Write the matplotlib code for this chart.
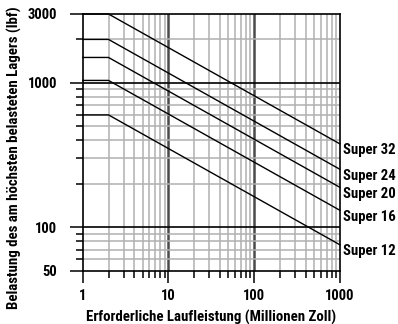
import numpy as np
import matplotlib
matplotlib.use("Agg")
import matplotlib.pyplot as plt
from matplotlib import font_manager as fm
from matplotlib.ticker import FixedLocator, NullFormatter

files = {f.fname.split("/")[-1]: f.fname for f in fm.fontManager.ttflist}
pref = ["RobotoCondensed-Bold.ttf", "LiberationSansNarrow-Bold.ttf", "ArchivoNarrow-Bold.ttf",
        "AsapCondensed-Bold.ttf", "BarlowCondensed-Bold.ttf", "DejaVuSansCondensed-Bold.ttf"]
FPATH = None
for p in pref:
    if p in files:
        FPATH = files[p]
        break

def fp(size):
    if FPATH:
        return fm.FontProperties(fname=FPATH, size=size)
    return fm.FontProperties(family="DejaVu Sans", weight="bold", size=size * 0.85)

# Data
series = ["Super 32", "Super 24", "Super 20", "Super 16", "Super 12"]
max_load = [3000, 2000, 1500, 1040, 600]   # lbf, flat up to knee
knee_life = 2                               # million inches
life_points = [1, 2, 1000]                  # million inches
xticks = [1, 10, 100, 1000]
xticklabels = ["1", "10", "100", "1000"]
yticks = [50, 100, 1000, 3000]
yticklabels = ["50", "100", "1000", "3000"]
xlabel = "Erforderliche Laufleistung (Millionen Zoll)"
ylabel = "Belastung des am höchsten belasteten Lagers (lbf)"

fig = plt.figure(figsize=(3.98, 3.24), dpi=100)
ax = fig.add_axes([0.2078, 0.1645, 0.854 - 0.2078, 0.9568 - 0.1645])
ax.set_xscale("log")
ax.set_yscale("log")
ax.set_xlim(1, 1000)
ax.set_ylim(50, 3000)

# grid
minor_x = [m * 10**e for e in range(0, 3) for m in range(2, 10)]
for v in minor_x:
    ax.axvline(v, color="#b0b0b0", lw=1.1, zorder=1)
for v in [10, 100]:
    ax.axvline(v, color="#4a4a4a", lw=1.8, zorder=1)
minor_y = [m * 10**e for e in range(1, 3) for m in range(2, 10)] + [2000]
minor_y = [v for v in minor_y if 50 < v < 3000]
for v in minor_y:
    ax.axhline(v, color="#b0b0b0", lw=1.1, zorder=1)
for v in [100, 1000]:
    ax.axhline(v, color="black", lw=1.2, zorder=1.5)

# curves
for name, p0 in zip(series, max_load):
    x = np.array(life_points, dtype=float)
    y = np.where(x <= knee_life, p0, p0 * (x / knee_life) ** (-1.0 / 3.0))
    ax.plot(x, y, color="black", lw=1.0, zorder=3, clip_on=False)
    ax.annotate(name, xy=(x[-1], y[-1]), xytext=(2.5, -4.5), textcoords="offset points",
                ha="left", va="center", fontproperties=fp(10.6), annotation_clip=False)

ax.xaxis.set_major_locator(FixedLocator(xticks))
ax.xaxis.set_minor_locator(FixedLocator(minor_x))
ax.xaxis.set_minor_formatter(NullFormatter())
ax.yaxis.set_major_locator(FixedLocator(yticks))
ax.yaxis.set_minor_locator(FixedLocator(minor_y))
ax.yaxis.set_minor_formatter(NullFormatter())
ax.set_xticklabels(xticklabels, fontproperties=fp(10.5))
ax.set_yticklabels(yticklabels, fontproperties=fp(10.5))
ax.tick_params(axis="x", which="major", direction="out", length=8.6, width=1.1, color="black", pad=4.5)
ax.tick_params(axis="y", which="major", direction="out", length=9.4, width=1.1, color="black", pad=9)
ax.tick_params(which="minor", direction="out", length=5, width=1.1, color="black")

for s in ax.spines.values():
    s.set_color("black")
    s.set_linewidth(1.2)
    s.set_zorder(4)

ax.set_xlabel(xlabel, fontproperties=fp(10.75), labelpad=5)
ax.set_ylabel(ylabel, fontproperties=fp(10.7))
ax.yaxis.set_label_coords(-0.235, 0.44)

fig.savefig("out.png", dpi=100)
